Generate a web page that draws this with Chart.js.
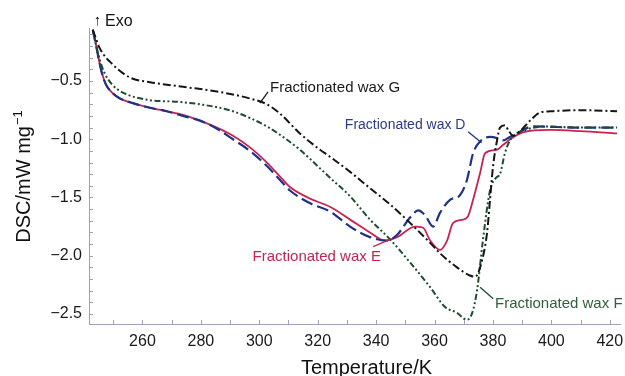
<!DOCTYPE html>
<html><head><meta charset="utf-8">
<script src="https://cdn.jsdelivr.net/npm/chart.js@4.4.1/dist/chart.umd.min.js"></script>
<style>html,body{margin:0;padding:0;background:#fff;}#wrap{width:625px;height:376px;}</style>
</head><body><div id="wrap"><canvas id="c" width="625" height="376"></canvas></div>
<script>
// ---- tick labels ----
const xTicks = [260, 280, 300, 320, 340, 360, 380, 400, 420];
const yTicks = [-2.5, -2.0, -1.5, -1.0, -0.5];

// ---- Fractionated wax D ----
const tempD = [243.0,244.1,245.1,246.1,247.5,249.6,252.3,256.7,262.6,268.4,273.9,279.7,285.5,291.0,296.8,302.6,307.1,310.5,317.4,324.2,331.1,337.9,343.7,347.2,351.7,354.4,356.7,359.5,361.9,365.3,368.7,371.1,373.2,375.6,379.0,381.4,383.4,385.8,388.2,393.7,409.8,422.5];
const dscD  = [-0.06,-0.19,-0.32,-0.43,-0.53,-0.60,-0.65,-0.69,-0.73,-0.76,-0.80,-0.84,-0.91,-1.00,-1.10,-1.23,-1.35,-1.44,-1.55,-1.62,-1.75,-1.84,-1.87,-1.82,-1.67,-1.61,-1.65,-1.75,-1.63,-1.52,-1.48,-1.35,-1.12,-1.02,-0.98,-0.99,-1.01,-0.98,-0.95,-0.89,-0.90,-0.90];

// ---- Fractionated wax E ----
const tempE = [243.0,244.1,245.1,246.1,247.5,249.6,252.3,256.7,262.6,268.4,273.9,279.7,285.5,291.0,296.8,302.6,307.1,310.5,317.4,324.2,331.1,337.9,343.0,347.2,353.4,356.1,358.5,361.9,364.3,366.3,369.8,371.5,373.2,375.6,377.3,381.4,383.4,386.5,390.3,399.6,409.8,422.5];
const dscE  = [-0.06,-0.19,-0.32,-0.43,-0.53,-0.60,-0.65,-0.69,-0.73,-0.76,-0.79,-0.84,-0.90,-0.97,-1.07,-1.20,-1.32,-1.41,-1.51,-1.58,-1.69,-1.80,-1.87,-1.84,-1.75,-1.76,-1.87,-1.95,-1.87,-1.72,-1.69,-1.66,-1.52,-1.29,-1.12,-1.09,-1.05,-0.99,-0.94,-0.92,-0.93,-0.95];

// ---- Fractionated wax F ----
const tempF = [243.0,244.1,245.4,247.2,249.6,253.3,261.5,272.8,279.7,291.0,302.6,308.1,313.9,320.8,324.2,331.1,337.9,344.8,351.7,358.5,363.6,367.7,371.1,372.9,374.6,376.6,379.0,381.1,382.4,384.1,385.8,388.2,391.0,397.1,409.8,422.5];
const dscF  = [-0.06,-0.19,-0.32,-0.44,-0.53,-0.60,-0.66,-0.68,-0.70,-0.76,-0.89,-0.98,-1.09,-1.25,-1.33,-1.49,-1.69,-1.86,-2.06,-2.27,-2.44,-2.49,-2.55,-2.49,-2.29,-1.86,-1.44,-1.33,-1.30,-1.12,-1.01,-0.95,-0.92,-0.89,-0.90,-0.90];

// ---- Fractionated wax G ----
const tempG = [243.0,245.4,249.9,255.7,262.6,273.9,285.5,296.8,302.6,307.1,313.9,320.8,324.2,331.1,337.9,344.8,351.7,358.5,361.9,367.7,372.1,373.9,375.6,378.0,379.0,380.0,381.4,382.4,384.1,385.2,386.9,389.3,392.7,396.1,399.6,409.8,422.5];
const dscG  = [-0.06,-0.22,-0.36,-0.47,-0.51,-0.55,-0.59,-0.65,-0.70,-0.78,-0.95,-1.09,-1.15,-1.28,-1.42,-1.56,-1.72,-1.89,-1.98,-2.10,-2.17,-2.18,-2.10,-1.80,-1.52,-1.24,-1.01,-0.90,-0.88,-0.92,-0.97,-0.93,-0.84,-0.77,-0.76,-0.75,-0.76];

const FONT = '"Liberation Sans", Arial, Helvetica, sans-serif';
const AXIS = '#9da2b8';

function pts(t, v) { return t.map((x, i) => ({ x: x, y: v[i] })); }
function minus(s) { return String(s).replace('-', '\u2212'); }

const labels = [
  { text: 'Fractionated wax G', color: '#1a1a1a', size: 15, at: [303.7, -0.56], line: [[300.2, -0.689], [303.0, -0.594]], lc: '#1a1a1a' },
  { text: 'Fractionated wax D', color: '#2e3a87', size: 14, at: [329.3, -0.878], line: [[371.5, -0.935], [376.1, -1.03]], lc: '#1e3288' },
  { text: 'Fractionated wax E', color: '#c0264f', size: 15, at: [297.7, -2.008], line: [[339.0, -1.922], [344.8, -1.859]], lc: '#c8234f' },
  { text: 'Fractionated wax F', color: '#2f5e3a', size: 15, at: [380.7, -2.414], line: [[375.6, -2.27], [380.1, -2.37]], lc: '#1f4d30' }
];

const decor = {
  id: 'decor',
  afterDraw(chart) {
    const ctx = chart.ctx, x = chart.scales.x, y = chart.scales.y, a = chart.chartArea;
    ctx.save();
    ctx.strokeStyle = AXIS; ctx.lineWidth = 1;
    ctx.beginPath();
    for (let t = 250; t <= 420; t += 10) {
      const px = Math.round(x.getPixelForValue(t)) + 0.5;
      ctx.moveTo(px, a.bottom); ctx.lineTo(px, a.bottom - 4);
    }
    for (let i = -25; i <= -1; i++) {
      const py = Math.round(y.getPixelForValue(i / 10)) + 0.5;
      ctx.moveTo(a.left, py); ctx.lineTo(a.left + 4, py);
    }
    ctx.stroke();

    labels.forEach(l => {
      ctx.strokeStyle = l.lc; ctx.lineWidth = 1.3;
      ctx.beginPath();
      ctx.moveTo(x.getPixelForValue(l.line[0][0]), y.getPixelForValue(l.line[0][1]));
      ctx.lineTo(x.getPixelForValue(l.line[1][0]), y.getPixelForValue(l.line[1][1]));
      ctx.stroke();
      ctx.fillStyle = l.color;
      ctx.font = l.size + 'px ' + FONT;
      ctx.textAlign = 'left'; ctx.textBaseline = 'middle';
      ctx.fillText(l.text, x.getPixelForValue(l.at[0]), y.getPixelForValue(l.at[1]));
    });

    ctx.fillStyle = '#111';
    ctx.font = '15px ' + FONT;
    ctx.textAlign = 'center'; ctx.textBaseline = 'middle';
    ctx.fillText('\u2191', 97.5, 21);
    ctx.font = '16px ' + FONT;
    ctx.textAlign = 'left';
    ctx.fillText('Exo', 105, 22);

    ctx.font = '20px ' + FONT;
    ctx.textAlign = 'center'; ctx.textBaseline = 'alphabetic';
    ctx.fillText('Temperature/K', 366.5, 374);

    ctx.translate(30, 177);
    ctx.rotate(-Math.PI / 2);
    ctx.font = '20px ' + FONT;
    const main = 'DSC/mW mg';
    const w1 = ctx.measureText(main).width;
    ctx.font = '13px ' + FONT;
    const sup = '\u22121';
    const w2 = ctx.measureText(sup).width;
    const start = -(w1 + w2) / 2;
    ctx.textAlign = 'left';
    ctx.font = '20px ' + FONT;
    ctx.fillText(main, start, 0);
    ctx.font = '13px ' + FONT;
    ctx.fillText(sup, start + w1 + 1, -8);
    ctx.restore();
  }
};

const common = { pointRadius: 0, fill: false, cubicInterpolationMode: 'monotone' };

function noPad(s) { s.paddingLeft = 0; s.paddingRight = 0; s.paddingTop = 0; s.paddingBottom = 0; }

new Chart(document.getElementById('c'), {
  type: 'line',
  data: {
    datasets: [
      Object.assign({ label: 'Fractionated wax G', data: pts(tempG, dscG), borderColor: '#151515', borderWidth: 2, borderDash: [8, 3, 2, 3] }, common),
      Object.assign({ label: 'Fractionated wax F', data: pts(tempF, dscF), borderColor: '#1f4d30', borderWidth: 2, borderDash: [6, 2.5, 2, 2.5, 2, 2.5] }, common),
      Object.assign({ label: 'Fractionated wax D', data: pts(tempD, dscD), borderColor: '#1e3288', borderWidth: 2.2, borderDash: [12, 5] }, common),
      Object.assign({ label: 'Fractionated wax E', data: pts(tempE, dscE), borderColor: '#c8234f', borderWidth: 1.8 }, common)
    ]
  },
  options: {
    responsive: false,
    animation: false,
    devicePixelRatio: 1,
    layout: { padding: { top: 28, right: 5, left: 0, bottom: 0 } },
    plugins: { legend: { display: false }, tooltip: { enabled: false } },
    scales: {
      x: {
        type: 'linear', min: 241.7, max: 423.5,
        afterBuildTicks: s => { s.ticks = xTicks.map(v => ({ value: v })); },
        afterFit: s => { s.height = 52; noPad(s); },
        ticks: { font: { family: FONT, size: 16 }, color: '#1a1a1a', padding: 8, maxRotation: 0, autoSkip: false, callback: v => String(v) },
        grid: { display: false, drawTicks: false },
        border: { display: true, color: AXIS, width: 1 }
      },
      y: {
        type: 'linear', min: -2.586, max: -0.045,
        afterBuildTicks: s => { s.ticks = yTicks.map(v => ({ value: v })); },
        afterFit: s => { s.width = 89; noPad(s); },
        ticks: { font: { family: FONT, size: 16 }, color: '#1a1a1a', padding: 7, callback: v => minus(Number(v).toFixed(1)) },
        grid: { display: false, drawTicks: false },
        border: { display: true, color: AXIS, width: 1 }
      }
    }
  },
  plugins: [decor]
});
</script>
</body></html>
